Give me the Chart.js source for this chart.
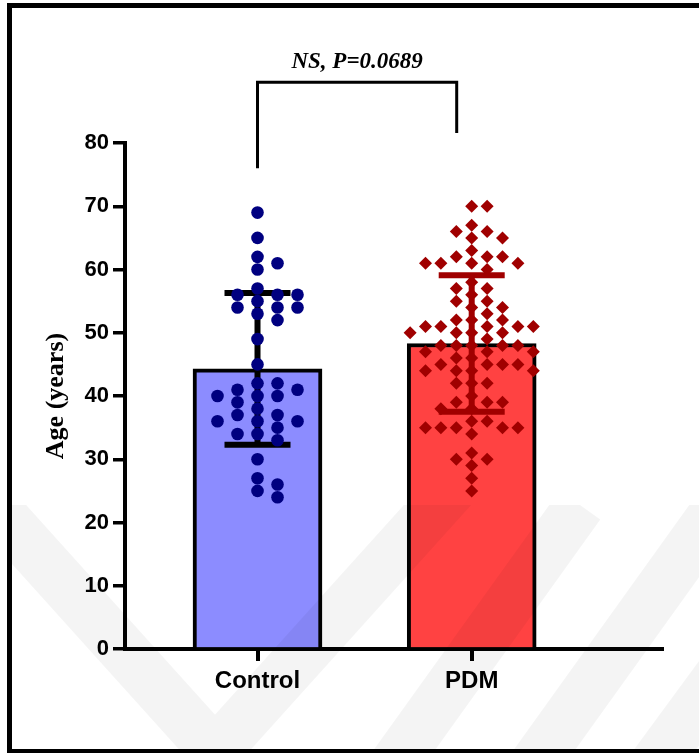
<!DOCTYPE html>
<html>
<head>
<meta charset="utf-8">
<script src="https://cdn.jsdelivr.net/npm/chart.js@4.4.1/dist/chart.umd.min.js"></script>
<style>
  html, body { margin: 0; padding: 0; background: #fff; }
  #wrap { width: 699px; height: 753px; position: relative; }
</style>
</head>
<body>
<div id="wrap"><canvas id="chart" width="699" height="753"></canvas></div>
<script>
/* ---------- data ---------- */
const groups = ['Control', 'PDM'];
const means = [44.3, 48.3];
const sds = [12.0, 10.8];
const yTicks = [0, 10, 20, 30, 40, 50, 60, 70, 80];

const controlAges = [69, 65, 62, 61, 60, 57, 56, 56, 56, 55, 54, 54, 54, 53, 52, 49, 45, 42, 42, 41,
    41, 40, 40, 40, 39, 38, 37, 37, 36, 36, 36, 35, 34, 34, 33, 30, 27, 26, 25, 24];

const pdmAges = [70, 70, 67, 66, 66, 65, 65, 63, 62, 62, 62, 61, 61, 61, 61, 60, 58, 57, 57, 56,
    55, 55, 54, 54, 53, 52, 52, 52, 51, 51, 51, 51, 51, 50, 50, 50, 50, 49, 48, 48,
    48, 48, 48, 47, 47, 47, 46, 46, 45, 45, 45, 45, 44, 44, 44, 44, 42, 42, 42, 40,
    39, 39, 39, 38, 38, 36, 36, 35, 35, 35, 35, 35, 34, 31, 30, 30, 29, 27, 25];

const pLabel = 'NS, P=0.0689';

/* ---------- layout helpers ---------- */
// spread the dots sideways so they don't sit on top of each other
function swarm(values, center, step, minGap) {
    const placed = [];
    return values.map(v => {
        for (let k = 0; k < 40; k++) {
            const col = k === 0 ? 0 : (k % 2 ? (k + 1) / 2 : -k / 2);
            if (!placed.some(p => p.col === col && Math.abs(p.v - v) < minGap)) {
                placed.push({ col, v });
                return { x: center + col * step, y: v };
            }
        }
        return { x: center, y: v };
    });
}

const tickFont = { family: "'Liberation Sans', Arial, sans-serif", weight: 'bold', size: 22 };

function drawErrorBar(chart, i, color) {
    const { ctx, scales: { x, y } } = chart;
    const cx = x.getPixelForValue(i);
    const top = y.getPixelForValue(means[i] + sds[i]);
    const bot = y.getPixelForValue(means[i] - sds[i]);
    ctx.save();
    ctx.strokeStyle = color;
    ctx.lineWidth = 6;
    ctx.beginPath();
    ctx.moveTo(cx, top); ctx.lineTo(cx, bot);
    ctx.moveTo(cx - 33, top); ctx.lineTo(cx + 33, top);
    ctx.moveTo(cx - 33, bot); ctx.lineTo(cx + 33, bot);
    ctx.stroke();
    ctx.restore();
}

const decor = {
    id: 'decor',
    beforeDraw(chart) {
        const { ctx } = chart;
        ctx.save();
        ctx.fillStyle = '#fff';
        ctx.fillRect(0, 0, chart.width, chart.height);
        ctx.restore();
    },
    afterDatasetDraw(chart, args) {
        if (args.index === 0) drawErrorBar(chart, 0, '#000');
        if (args.index === 2) drawErrorBar(chart, 1, '#a00000');
    },
    afterDraw(chart) {
        const { ctx, scales: { x, y } } = chart;
        ctx.save();

        // faint watermark
        ctx.beginPath();
        ctx.rect(12, 505, chart.width, 244);
        ctx.clip();
        ctx.strokeStyle = 'rgba(0,0,0,0.045)';
        ctx.lineWidth = 50;
        ctx.beginPath();
        ctx.moveTo(-30, 480); ctx.lineTo(215, 752); ctx.lineTo(460, 480);
        ctx.moveTo(390, 770); ctx.lineTo(580, 505);
        ctx.moveTo(530, 770); ctx.lineTo(720, 505);
        ctx.moveTo(650, 770); ctx.lineTo(760, 620);
        ctx.stroke();
        ctx.restore();

        ctx.save();
        // frame
        ctx.fillStyle = '#000';
        ctx.fillRect(7, 3, chart.width - 7, 5);
        ctx.fillRect(7, 3, 5, chart.height - 3);
        ctx.fillRect(7, chart.height - 4, chart.width - 7, 4);

        // significance bracket
        const xl = x.getPixelForValue(0);
        const xr = x.getPixelForValue(1) - 15;
        const yTop = y.getPixelForValue(89.6);
        ctx.strokeStyle = '#000';
        ctx.lineWidth = 3;
        ctx.beginPath();
        ctx.moveTo(xl, y.getPixelForValue(76));
        ctx.lineTo(xl, yTop);
        ctx.lineTo(xr, yTop);
        ctx.lineTo(xr, y.getPixelForValue(81.6));
        ctx.stroke();

        ctx.fillStyle = '#000';
        ctx.font = "italic bold 23px 'Liberation Serif', 'Times New Roman', serif";
        ctx.textAlign = 'center';
        ctx.textBaseline = 'alphabetic';
        ctx.fillText(pLabel, (xl + xr) / 2, y.getPixelForValue(91.9));
        ctx.restore();
    }
};

/* ---------- chart ---------- */
new Chart(document.getElementById('chart'), {
    data: {
        datasets: [
            {
                type: 'bar',
                data: groups.map((g, i) => ({ x: i, y: means[i] })),
                backgroundColor: ['#8c8cff', '#ff4242'],
                borderColor: '#000',
                borderWidth: 4,
                barThickness: 129,
                order: 3
            },
            {
                type: 'scatter',
                data: swarm(controlAges, 0, 0.0934, 2),
                pointStyle: 'circle',
                pointRadius: 6.3,
                backgroundColor: '#000080',
                borderWidth: 0,
                order: 2
            },
            {
                type: 'scatter',
                data: swarm(pdmAges, 1, 0.0719, 2),
                pointStyle: 'rectRot',
                pointRadius: 6.5,
                backgroundColor: '#a00000',
                borderWidth: 0,
                order: 1
            }
        ]
    },
    options: {
        responsive: false,
        animation: false,
        events: [],
        layout: { padding: { top: 143, right: 37, left: 0, bottom: 0 } },
        plugins: { legend: { display: false }, tooltip: { enabled: false } },
        scales: {
            x: {
                type: 'linear',
                min: -0.6186,
                max: 1.8884,
                offset: false,
                afterBuildTicks: s => { s.ticks = groups.map((g, i) => ({ value: i })); },
                afterFit: s => { s.height = 104; },
                ticks: {
                    callback: v => groups[v],
                    font: { ...tickFont, size: 24 },
                    color: '#000',
                    padding: 6,
                    autoSkip: false,
                    maxRotation: 0
                },
                grid: { offset: false, drawOnChartArea: false, drawTicks: true, tickLength: 12, lineWidth: 4, color: '#000' },
                border: { display: true, color: '#000', width: 4 }
            },
            y: {
                min: 0,
                max: 80,
                afterBuildTicks: s => { s.ticks = yTicks.map(v => ({ value: v })); },
                afterFit: s => { s.width = 125; },
                ticks: { font: tickFont, color: '#000', padding: 4 },
                grid: { drawOnChartArea: false, drawTicks: true, tickLength: 12, lineWidth: 3.5, color: '#000' },
                border: { display: true, color: '#000', width: 4 },
                title: {
                    display: true,
                    text: 'Age (years)',
                    color: '#000',
                    font: { family: "'Liberation Serif', 'Times New Roman', serif", weight: 'bold', size: 26 },
                    padding: { top: 41, bottom: 0 }
                }
            }
        }
    },
    plugins: [decor]
});
</script>
</body>
</html>
